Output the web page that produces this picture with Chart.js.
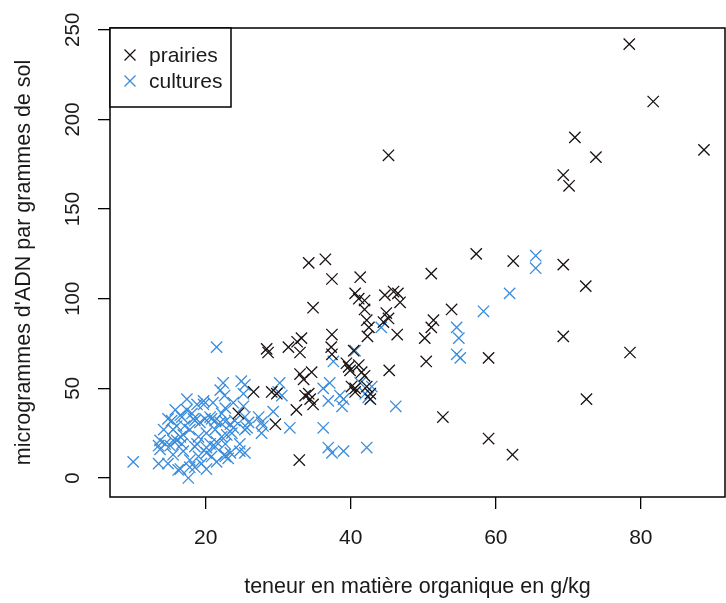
<!DOCTYPE html>
<html>
<head>
<meta charset="utf-8">
<script src="https://cdn.jsdelivr.net/npm/chart.js@4/dist/chart.umd.min.js"></script>
<style>
  body { margin: 0; background: #fff; }
</style>
</head>
<body>
<canvas id="graph" width="726" height="603"></canvas>
<script>
// matière organique (g/kg) et ADN (µg / g de sol)
const prairiesMO = [78.4, 81.7, 88.7, 70.9, 73.8, 69.3, 70.1, 45.2, 57.3, 62.4, 69.3, 72.4, 51.1,
  53.9, 69.3, 52.7, 59.0, 62.3, 72.5, 78.5, 59.0, 50.4, 50.2, 51.4, 51.1, 46.4, 45.3, 44.5, 45.2, 44.9, 46.8,
  34.2, 36.5, 37.4, 41.3, 34.8, 40.6, 41.1, 41.9, 41.9, 44.7, 45.9, 46.5, 42.2, 42.5, 42.3,
  31.4, 32.6, 33.2, 33.0, 37.4, 37.3, 37.4, 39.4, 39.9, 41.1, 41.5, 41.9, 33.0, 33.5, 34.6,
  33.7, 34.2, 34.4, 34.8, 40.1, 40.6, 42.2, 42.7, 42.7, 32.5, 29.6, 32.9,
  28.4, 28.6, 26.6, 29.1, 29.8, 24.5, 39.7, 40.4, 40.6];
const prairiesADN = [242, 210, 183, 190, 179, 169, 163, 180, 125, 121, 119, 107, 114,
  94, 79, 34, 22, 13, 44, 70, 67, 65, 78, 88, 84, 80, 60, 87, 89, 92, 98,
  120, 122, 111, 112, 95, 103, 100, 99, 94, 102, 104, 103, 88, 84, 79,
  73, 76, 78, 70, 80, 73, 69, 64, 60, 63, 59, 57, 58, 55, 59,
  46, 47, 44, 41, 51, 48, 51, 44, 47, 38, 30, 10,
  72, 70, 48, 48, 47, 36, 62, 71, 50];

const culturesMO = [65.5, 65.5, 61.9, 58.3, 54.6, 54.9, 54.6, 55.1, 44.2, 46.2, 42.2, 37.6, 40.6,
  41.3, 42.0, 42.4, 42.9, 36.2, 37.1, 36.9, 38.5, 38.8, 39.0, 30.0, 30.5, 29.3, 31.6, 36.2,
  36.9, 37.4, 39.0, 21.5, 22.4, 24.9, 25.4, 30.2, 27.7, 25.2, 25.4, 25.9, 25.4, 22.6, 23.1,
  17.4, 18.8, 19.7, 15.3, 16.0, 16.7, 17.1, 18.1, 18.5, 19.2, 19.9, 20.6, 21.3, 22.0, 22.7, 23.4,
  21.3, 20.1, 19.0, 17.8, 16.5, 15.5, 14.4, 13.5, 13.7, 16.7, 18.5, 20.6,
  10.0, 13.5, 14.8, 16.2, 17.6, 17.8, 19.0, 20.1, 20.8, 21.3, 19.4, 18.5, 23.8, 22.7, 22.2, 24.0,
  23.6, 22.2, 22.7, 21.0, 19.7, 14.8, 15.5, 14.2, 17.4, 15.8, 27.7, 27.3, 25.4, 27.9,
  22.0, 22.6, 25.2, 16.5, 18.3, 20.8, 16.9, 16.0, 15.1, 13.7, 15.5, 16.9, 18.8, 20.1, 21.5,
  22.9, 23.8, 21.5, 22.7, 23.4, 16.5, 17.8, 20.1, 24.7, 24.7, 25.7];
const culturesADN = [124, 117, 103, 93, 84, 78, 69, 67, 84, 40, 17, 65, 71,
  53, 47, 45, 51, 50, 53, 43, 46, 40, 44, 48, 46, 37, 28, 28,
  17, 14, 15, 73, 53, 54, 52, 53, 25, 40, 34, 31, 14, 13, 11,
  44, 41, 41, 32, 29, 34, 29, 36, 32, 31, 33, 34, 32, 31, 31.5, 30,
  27, 25, 23, 27, 23, 21, 19, 18, 21, 19, 17.5, 19,
  9, 8, 8, 4.5, 0, 10, 12, 14, 12, 17.5, 8, 6, 42, 39, 36, 32,
  25, 23, 19, 42, 43, 33, 27, 27, 38, 38, 31, 34, 27, 29,
  49, 46, 47, 35, 33, 33, 24, 21, 18, 16, 13, 15, 19, 17, 20,
  24, 28, 9, 12, 14, 5, 6, 5, 19, 15, 28];

const seriesLabels = ['prairies', 'cultures'];
const seriesColors = ['#1a1212', '#3a8cdc'];
const xTicks = [20, 40, 60, 80];
const yTicks = [0, 50, 100, 150, 200, 250];

const fontFamily = '"Liberation Sans", Arial, sans-serif';
const textColor = '#1a1a1a';

function toPoints(xs, ys) {
  return xs.map((x, i) => ({x: x, y: ys[i]}));
}

// cadre du graphique, étiquettes verticales de l'axe y et légende dans le coin
const rStyle = {
  id: 'rStyle',
  afterDraw(chart) {
    const ctx = chart.ctx;
    const area = chart.chartArea;
    const y = chart.scales.y;

    ctx.save();
    ctx.strokeStyle = '#000';
    ctx.lineWidth = 1.5;
    ctx.strokeRect(area.left, area.top, area.right - area.left, area.bottom - area.top);

    ctx.fillStyle = textColor;
    ctx.font = '20.5px ' + fontFamily;
    ctx.textAlign = 'center';
    ctx.textBaseline = 'middle';
    yTicks.forEach(v => {
      ctx.save();
      ctx.translate(73, y.getPixelForValue(v));
      ctx.rotate(-Math.PI / 2);
      ctx.fillText(String(v), 0, 0);
      ctx.restore();
    });

    // légende
    ctx.fillStyle = '#fff';
    ctx.fillRect(area.left, area.top, 121, 79);
    ctx.strokeRect(area.left, area.top, 121, 79);
    ctx.textAlign = 'left';
    ctx.font = '21px ' + fontFamily;
    seriesLabels.forEach((label, i) => {
      const cy = area.top + 27 + i * 26;
      const cx = area.left + 20;
      ctx.strokeStyle = seriesColors[i];
      ctx.lineWidth = 1.3;
      ctx.beginPath();
      ctx.moveTo(cx - 5.5, cy - 5.5); ctx.lineTo(cx + 5.5, cy + 5.5);
      ctx.moveTo(cx + 5.5, cy - 5.5); ctx.lineTo(cx - 5.5, cy + 5.5);
      ctx.stroke();
      ctx.fillStyle = textColor;
      ctx.fillText(label, area.left + 39, cy + 1);
    });
    ctx.restore();
  }
};

new Chart(document.getElementById('graph'), {
  type: 'scatter',
  data: {
    datasets: [{
      label: seriesLabels[0],
      data: toPoints(prairiesMO, prairiesADN),
      pointStyle: 'crossRot',
      radius: 8,
      borderWidth: 1.3,
      borderColor: seriesColors[0],
      backgroundColor: seriesColors[0]
    }, {
      label: seriesLabels[1],
      data: toPoints(culturesMO, culturesADN),
      pointStyle: 'crossRot',
      radius: 8,
      borderWidth: 1.3,
      borderColor: seriesColors[1],
      backgroundColor: seriesColors[1]
    }]
  },
  options: {
    responsive: false,
    animation: false,
    layout: {autoPadding: false, padding: {top: 28, right: 1, left: 0, bottom: 0}},
    plugins: {
      legend: {display: false},
      tooltip: {enabled: false}
    },
    scales: {
      x: {
        type: 'linear',
        min: 6.8,
        max: 91.6,
        afterBuildTicks: s => { s.ticks = xTicks.map(v => ({value: v})); },
        afterFit: s => { s.height = 106; },
        grid: {drawOnChartArea: false, tickLength: 12, color: '#000', lineWidth: 1.3},
        border: {display: false},
        ticks: {color: textColor, font: {size: 21, family: fontFamily}, padding: 17, maxRotation: 0, autoSkip: false},
        title: {
          display: true,
          text: 'teneur en matière organique en g/kg',
          color: textColor,
          font: {size: 21.5, family: fontFamily},
          padding: {top: 0, bottom: 3}
        }
      },
      y: {
        type: 'linear',
        min: -10.6,
        max: 251,
        afterBuildTicks: s => { s.ticks = yTicks.map(v => ({value: v})); },
        afterFit: s => { s.width = 110; },
        grid: {drawOnChartArea: false, tickLength: 12, color: '#000', lineWidth: 1.3},
        border: {display: false},
        ticks: {display: false},
        title: {
          display: true,
          text: "microgrammes d'ADN par grammes de sol",
          color: textColor,
          font: {size: 21.5, family: fontFamily},
          padding: {top: 11, bottom: 0}
        }
      }
    }
  },
  plugins: [rStyle]
});
</script>
</body>
</html>
